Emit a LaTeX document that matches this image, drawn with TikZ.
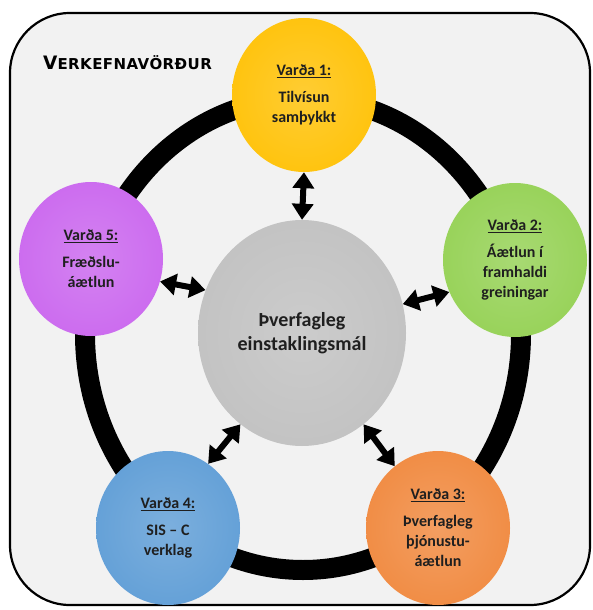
\documentclass[tikz,border=0pt]{standalone}
\usepackage{fontspec}
\setmainfont{Carlito}
\newfontfamily\titlefont[LetterSpace=3]{DejaVu Sans}
\usepackage{tikz}
\usetikzlibrary{shapes.geometric,arrows.meta}
\definecolor{vgold}{HTML}{FFC000}
\definecolor{vgreen}{HTML}{92D050}
\definecolor{vorange}{HTML}{F0863A}
\definecolor{vblue}{HTML}{5B9BD5}
\definecolor{vpurple}{HTML}{C963EE}
\definecolor{vgray}{HTML}{BFBFBF}
\definecolor{vback}{HTML}{F2F2F2}
\makeatletter
\pgfdeclareradialshading[tikz@ball]{flatball}{\pgfqpoint{0bp}{0bp}}{color(0bp)=(tikz@ball!80!white); color(25bp)=(tikz@ball!94!white); color(42bp)=(tikz@ball); color(50bp)=(tikz@ball!85!black)}
\makeatother
\tikzstyle{varda}=[ellipse, shading=flatball, minimum width=144pt, minimum height=154pt, inner sep=0pt, align=center, text=black!88, font=\fontsize{16}{20}\selectfont\bfseries]
\tikzstyle{hub}=[varda, minimum width=208pt, minimum height=226pt, font=\fontsize{20}{24}\selectfont\bfseries]
\tikzstyle{link}=[line width=6pt, {Triangle[width=21pt,length=16pt]}-{Triangle[width=21pt,length=16pt]}]

\begin{document}
\begin{tikzpicture}[x=1pt, y=-1pt]
                    \useasboundingbox (0,0) rectangle (593,610);
                    \draw[line width=2.2pt, fill=vback, rounded corners=60pt] (10,13) rectangle (590,605);
                    \draw[line width=20pt] (303,334) ellipse [x radius=218, y radius=236];
                    \node[ball color=vgold, varda] (1) at (304,95) {\underline{Varða 1:}\\[7pt]Tilvísun\\samþykkt};
                    \node[ball color=vgreen, varda] (2) at (515,260) {\underline{Varða 2:}\\[7pt]Áætlun í\\framhaldi\\greiningar};
                    \node[ball color=vorange, varda] (3) at (438,528) {\underline{Varða 3:}\\[7pt]Þverfagleg\\þjónustu-\\áætlun};
                    \node[ball color=vblue, varda] (4) at (168,528) {\underline{Varða 4:}\\[7pt]SIS -- C\\verklag};
                    \node[ball color=vpurple, varda] (5) at (91,259) {\underline{Varða 5:}\\[7pt]Fræðslu-\\áætlun};
                    \node[ball color=vgray, hub] (0) at (302,333) {Þverfagleg\\einstaklingsmál};
                    \draw[link] (1.-90) -- (0.90);
                    \draw[link] (0.16) -- (2.-154);
                    \draw[link] (0.-56) -- (3.125);
                    \draw[link] (0.-124) -- (4.58);
                    \draw[link] (0.156) -- (5.-18);
                    \node[anchor=base west, inner sep=0pt, font=\titlefont\bfseries] (6) at (43,70) {{\fontsize{18.5}{18}\selectfont V}\fontsize{15}{15}\selectfont ERKEFNAVÖRÐUR};
                \end{tikzpicture}
\end{document}
